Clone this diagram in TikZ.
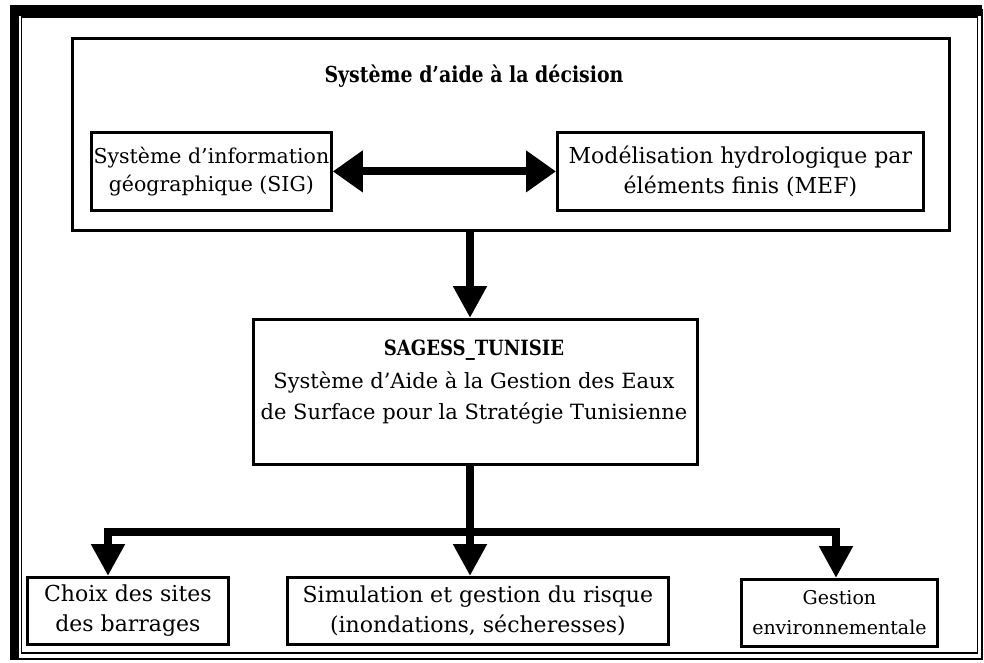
\documentclass[tikz,border=0pt]{standalone}
\usepackage{fontspec}
\usepackage{graphicx}
\setmainfont{DejaVu Serif}
\usetikzlibrary{arrows.meta}
\newcommand{\narrow}[1]{\scalebox{0.86}[1]{#1}}
\begin{document}
\begin{tikzpicture}[x=1pt,y=-1pt,
  box/.style={draw,line width=2.8pt,align=center,inner sep=0pt},
  body/.style={font=\fontsize{22}{30}\selectfont},
  bigarrow/.style={line width=8.5pt,-{Triangle[length=32pt,width=32pt]}},
  dblarrow/.style={line width=8pt,{Triangle[length=30pt,width=40pt]}-{Triangle[length=30pt,width=40pt]}},
  trunk/.style={line width=8.5pt}]
\useasboundingbox (0,0) rectangle (984,662);
% outer double frame
\fill (10,5) rectangle (19,660);
\fill (10,5) rectangle (982,16);
\draw[line width=1.2pt] (14,10) -- (982,10) -- (982,659) -- (14,659);
\draw[line width=1.2pt] (21.5,17) rectangle (977.5,653);
% decision support system
\node[box,minimum width=877pt,minimum height=192pt,anchor=north west] (sad) at (71,37) {};
\node[font=\fontsize{22}{24}\selectfont\bfseries] (title) at (474,76) {\narrow{Système d'aide à la décision}};
\node[box,font=\fontsize{20.5}{28}\selectfont,minimum width=240pt,minimum height=78pt,anchor=north west] (sig) at (90,131)
  {Système d'information\\géographique (SIG)};
\node[box,body,minimum width=366pt,minimum height=78pt,anchor=north west] (mef) at (556,131)
  {Modélisation hydrologique par\\éléments finis (MEF)};
\draw[dblarrow] (sig.east) -- (mef.west);
% SAGESS
\node[box,minimum width=444pt,minimum height=145pt,anchor=north west] (sag) at (252,318) {};
\node[font=\fontsize{21}{22}\selectfont\bfseries] (sagt) at (474,350) {\narrow{SAGESS\_TUNISIE}};
\node[align=center,font=\fontsize{21}{31}\selectfont] (sagd) at (474,398) {Système d'Aide à la Gestion des Eaux\\de Surface pour la Stratégie Tunisienne};
\draw[bigarrow] (sad.south -| 470,0) -- (sag.north -| 470,0);
% outcomes
\node[box,body,minimum width=201pt,minimum height=67pt,anchor=north west] (choix) at (26,576)
  {Choix des sites\\des barrages};
\node[box,body,minimum width=381pt,minimum height=67pt,anchor=north west] (simu) at (286,576)
  {Simulation et gestion du risque\\(inondations, sécheresses)};
\node[box,minimum width=196pt,minimum height=67pt,anchor=north west,font=\fontsize{19}{30}\selectfont] (env) at (740,578)
  {Gestion\\environnementale};
\coordinate (hub) at (470,532);
\coordinate (hl) at (108,532);
\coordinate (hr) at (836,532);
\draw[trunk] (sag.south -| hub) -- (hub);
\draw[trunk,line cap=rect] (hl) -- (hr);
\draw[bigarrow] (hl) -- (hl |- choix.north);
\draw[bigarrow] (hub) -- (hub |- simu.north);
\draw[bigarrow] (hr) -- (hr |- env.north);
\end{tikzpicture}
\end{document}
